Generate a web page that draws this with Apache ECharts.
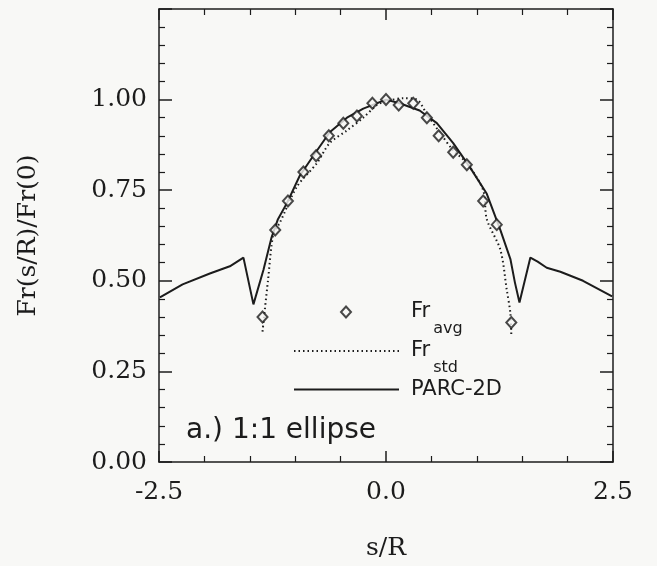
<!DOCTYPE html>
<html>
<head>
<meta charset="utf-8">
<script src="https://cdn.jsdelivr.net/npm/echarts@6/dist/echarts.min.js"></script>
<style>
  html, body { margin: 0; padding: 0; background: #f8f8f6; }
  #main { width: 657px; height: 566px; }
</style>
</head>
<body>
<div id="main"></div>
<script>
  // PARC-2D (solid line)
  var parcX = [-2.49, -2.24, -1.94, -1.72, -1.57, -1.46, -1.35, -1.26, -1.19, -1.09, -0.95, -0.80, -0.62, -0.43, -0.25, -0.07, 0.0,
               0.15, 0.37, 0.56, 0.74, 0.92, 1.11, 1.26, 1.37, 1.42, 1.47, 1.59, 1.67, 1.77, 1.92, 2.17, 2.49];
  var parcY = [0.454, 0.49, 0.52, 0.54, 0.564, 0.435, 0.53, 0.62, 0.67, 0.715, 0.79, 0.845, 0.91, 0.95, 0.975, 0.993, 1.0,
               0.99, 0.97, 0.935, 0.88, 0.815, 0.74, 0.64, 0.56, 0.495, 0.44, 0.564, 0.553, 0.536, 0.525, 0.50, 0.457];

  // Fr_std (dotted line)
  var stdX = [-1.36, -1.30, -1.24, -1.17, -0.98, -0.76, -0.62, -0.43, -0.25, -0.10, 0.0, 0.19, 0.34, 0.45, 0.59, 0.74, 0.89, 1.07, 1.11, 1.26, 1.33, 1.37, 1.38];
  var stdY = [0.36, 0.50, 0.63, 0.66, 0.76, 0.825, 0.88, 0.915, 0.95, 0.985, 0.995, 1.004, 1.0, 0.96, 0.91, 0.86, 0.825, 0.75, 0.67, 0.585, 0.475, 0.41, 0.35];

  // Fr_avg (diamonds)
  var avgX = [-1.36, -1.22, -1.08, -0.91, -0.77, -0.63, -0.47, -0.32, -0.15, 0.0, 0.14, 0.30, 0.45, 0.58, 0.74, 0.89, 1.07, 1.22, 1.38];
  var avgY = [0.40, 0.64, 0.72, 0.80, 0.845, 0.90, 0.935, 0.955, 0.99, 1.0, 0.985, 0.99, 0.95, 0.90, 0.855, 0.82, 0.72, 0.655, 0.385];

  var xTicks = [-2.5, 0.0, 2.5];
  var yTicks = [0.00, 0.25, 0.50, 0.75, 1.00];

  function pairs(xs, ys) {
    return xs.map(function (x, i) { return [x, ys[i]]; });
  }

  var ink = '#1c1c1c';
  var paper = '#f8f8f6';
  var serif = 'DejaVu Serif';

  var myChart = echarts.init(document.getElementById('main'));

  var axisCommon = {
    axisLine: { show: true, onZero: false, lineStyle: { color: ink, width: 1.5 } },
    axisTick: { show: true, inside: true, length: 11, lineStyle: { color: ink, width: 1.5 } },
    minorTick: { show: true, splitNumber: 5, length: 6, lineStyle: { color: ink, width: 1.2 } },
    splitLine: { show: false }
  };
  var yTick = { axisTick: { show: true, inside: true, length: 13, lineStyle: { color: ink, width: 1.5 } } };

  var legendRich = {
    a: { fontFamily: 'DejaVu Sans', fontSize: 21, lineHeight: 50, verticalAlign: 'middle', color: ink },
    s: { fontFamily: 'DejaVu Sans', fontSize: 16, lineHeight: 16, verticalAlign: 'middle', color: ink, padding: [34, 0, 0, 3] }
  };
  function legendLabel(name) {
    if (name === 'PARC-2D') return '{a|PARC-2D}';
    return '{a|Fr}{s|' + name.split('_')[1] + '}';
  }
  function lineLegend(name, top) {
    return {
      data: [name], orient: 'vertical', left: 293, top: top, padding: 0,
      itemWidth: 105, itemHeight: 10, itemStyle: { opacity: 0 },
      formatter: legendLabel,
      textStyle: { color: ink, padding: [0, 0, 0, 7], rich: legendRich }
    };
  }

  var option = {
    backgroundColor: paper,
    animation: false,
    title: {
      text: 'a.) 1:1 ellipse',
      left: 181,
      top: 412,
      textStyle: { fontFamily: 'DejaVu Sans', fontSize: 28, fontWeight: 'normal', color: ink }
    },
    grid: { left: 159, right: 44, top: 9, bottom: 103 },
    legend: [
      {
        data: ['Fr_avg'], orient: 'vertical', left: 340, top: 287, padding: 0,
        itemWidth: 10, itemHeight: 11,
        formatter: legendLabel,
        textStyle: { color: ink, padding: [0, 0, 0, 55], rich: legendRich }
      },
      lineLegend('Fr_std', 326),
      lineLegend('PARC-2D', 379)
    ],
    xAxis: [
      Object.assign({
        type: 'value', position: 'bottom', min: xTicks[0], max: xTicks[xTicks.length - 1], interval: 2.5,
        name: 's/R', nameLocation: 'middle', nameGap: 74,
        nameTextStyle: { fontFamily: serif, fontSize: 25, color: ink },
        axisLabel: { margin: 18, fontFamily: serif, fontSize: 25, color: ink, formatter: function (v) { return v.toFixed(1); } }
      }, axisCommon),
      Object.assign({
        type: 'value', position: 'top', min: -2.5, max: 2.5, interval: 2.5,
        axisLabel: { show: false }
      }, axisCommon)
    ],
    yAxis: [
      Object.assign({
        type: 'value', position: 'left', min: yTicks[0], max: 1.25, interval: 0.25,
        name: 'Fr(s/R)/Fr(0)', nameLocation: 'middle', nameGap: 118, nameRotate: 90,
        nameTextStyle: { fontFamily: serif, fontSize: 25, color: ink },
        axisLabel: { margin: 12, fontFamily: serif, fontSize: 25, color: ink,
          formatter: function (v) { return v > yTicks[yTicks.length - 1] ? '' : v.toFixed(2); } }
      }, axisCommon, yTick),
      Object.assign({
        type: 'value', position: 'right', min: 0, max: 1.25, interval: 0.25,
        axisLabel: { show: false }
      }, axisCommon, yTick)
    ],
    series: [
      {
        name: 'PARC-2D', type: 'line', showSymbol: false, symbol: 'none',
        itemStyle: { color: ink },
        lineStyle: { color: ink, width: 2 },
        data: pairs(parcX, parcY), z: 2
      },
      {
        name: 'Fr_std', type: 'line', showSymbol: false, symbol: 'none', smooth: 0.3,
        itemStyle: { color: ink },
        lineStyle: { color: ink, width: 2, type: [1.5, 3] },
        data: pairs(stdX, stdY), z: 3
      },
      {
        name: 'Fr_avg', type: 'scatter', symbol: 'diamond', symbolSize: [10, 11],
        itemStyle: { color: paper, borderColor: ink, borderWidth: 2 },
        data: pairs(avgX, avgY), z: 4
      }
    ]
  };

  myChart.setOption(option);
</script>
</body>
</html>
